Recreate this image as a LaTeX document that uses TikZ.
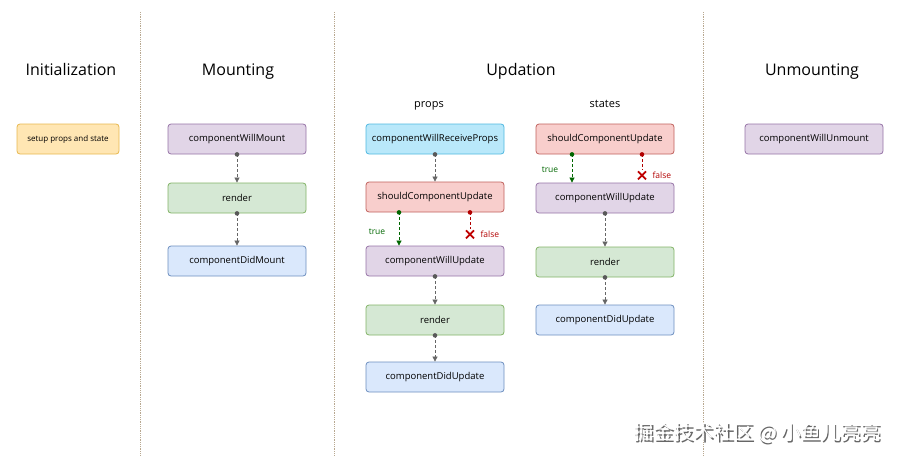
\documentclass[tikz,border=0pt]{standalone}
\usepackage{fontspec}
\setmainfont{Open Sans}
\newfontfamily\cjk{Noto Sans CJK SC}
\usetikzlibrary{arrows.meta}
\definecolor{purF}{HTML}{E1D5E7}\definecolor{purD}{HTML}{9673A6}
\definecolor{grnF}{HTML}{D5E8D4}\definecolor{grnD}{HTML}{82B366}
\definecolor{bluF}{HTML}{DAE8FC}\definecolor{bluD}{HTML}{6C8EBF}
\definecolor{cyaF}{HTML}{B9E8FA}\definecolor{cyaD}{HTML}{4FB8E0}
\definecolor{redF}{HTML}{F8CECC}\definecolor{redD}{HTML}{C0605C}
\definecolor{orgF}{HTML}{FFE6B3}\definecolor{orgD}{HTML}{E8B84E}
\definecolor{sep}{HTML}{B8A890}
\tikzset{
  box/.style={draw, rounded corners=3pt, line width=0.8pt, minimum width=138pt, minimum height=30pt, font=\fontsize{9.5}{11}\selectfont},
  pur/.style={box, fill=purF, draw=purD},
  grn/.style={box, fill=grnF, draw=grnD},
  blu/.style={box, fill=bluF, draw=bluD},
  cya/.style={box, fill=cyaF, draw=cyaD},
  red/.style={box, fill=redF, draw=redD},
  org/.style={box, fill=orgF, draw=orgD, minimum width=102pt, font=\fontsize{8}{9}\selectfont},
  head/.style={font=\fontsize{16}{18}\selectfont, anchor=base},
  sub/.style={font=\fontsize{11}{13}\selectfont, anchor=base},
  flow/.style={densely dashed, gray!80!black, line width=0.7pt, -{Triangle[length=5pt,width=5pt]}},
  note/.style={font=\fontsize{8.5}{10}\selectfont},
}
\newcommand{\dotat}[2]{\fill[#1] (#2) circle (2.3pt);}
\begin{document}
\begin{tikzpicture}[x=1pt,y=-1pt]
\useasboundingbox (0,0) rectangle (900,463);
% separators
\foreach \sx in {140,334,703}
  \draw[sep, densely dotted, line width=0.8pt] (\sx,12) -- (\sx,455);
% headers
\node[head] at (71,75) {Initialization};
\node[head] at (238,75) {Mounting};
\node[head] at (521,75) {Updation};
\node[head] at (812,75) {Unmounting};
\node[sub] at (429,107) {props};
\node[sub] at (605,107) {states};
% initialization
\node[org] (setup) at (68,139) {setup props and state};
% mounting
\node[pur] (mWill) at (237,139) {componentWillMount};
\node[grn] (mRender) at (237,198) {render};
\node[blu] (mDid) at (237,261) {componentDidMount};
% props
\node[cya] (pRecv) at (435,139) {componentWillReceiveProps};
\node[red] (pShould) at (435,197) {shouldComponentUpdate};
\node[pur] (pWill) at (435,261) {componentWillUpdate};
\node[grn] (pRender) at (435,320) {render};
\node[blu] (pDid) at (435,377) {componentDidUpdate};
% states
\node[red] (sShould) at (605,139) {shouldComponentUpdate};
\node[pur] (sWill) at (605,198) {componentWillUpdate};
\node[grn] (sRender) at (605,262) {render};
\node[blu] (sDid) at (605,320) {componentDidUpdate};
% unmounting
\node[pur] (uWill) at (814,139) {componentWillUnmount};
% straight connectors
\foreach \a/\b in {mWill/mRender, mRender/mDid, pRecv/pShould, pWill/pRender, pRender/pDid, sWill/sRender, sRender/sDid}{
  \draw[flow] (\a.south) -- (\b.north);
  \dotat{gray!70!black}{\a.south}
}
% true / false branches
\coordinate (pT) at ([xshift=-36pt]pShould.south);
\coordinate (pF) at ([xshift=35pt]pShould.south);
\draw[flow, green!40!black] (pT) -- (pT |- pWill.north);
\dotat{green!40!black}{pT}
\coordinate (pX) at ([yshift=-22pt]pF);
\draw[densely dashed, red!70!black, line width=0.7pt] (pF) -- ([yshift=5pt]pX);
\dotat{red!70!black}{pF}
\draw[red!75!black, line width=1.8pt] ([shift={(-4,-4)}]pX) -- ([shift={(4,4)}]pX) ([shift={(4,-4)}]pX) -- ([shift={(-4,4)}]pX);
\node[note, red!70!black, anchor=west] at ([xshift=7pt]pX) {false};
\node[note, green!40!black] at (377,232) {true};
\coordinate (sT) at ([xshift=-33pt]sShould.south);
\coordinate (sF) at ([xshift=37pt]sShould.south);
\draw[flow, green!40!black] (sT) -- (sT |- sWill.north);
\dotat{green!40!black}{sT}
\coordinate (sX) at ([yshift=-21pt]sF);
\draw[densely dashed, red!70!black, line width=0.7pt] (sF) -- ([yshift=5pt]sX);
\dotat{red!70!black}{sF}
\draw[red!75!black, line width=1.8pt] ([shift={(-4,-4)}]sX) -- ([shift={(4,4)}]sX) ([shift={(4,-4)}]sX) -- ([shift={(-4,4)}]sX);
\node[note, red!70!black, anchor=west] at ([xshift=7pt]sX) {false};
\node[note, green!40!black] at (550,170) {true};
% watermark
\node[font=\cjk\fontsize{20}{24}\selectfont, gray!80!black, anchor=east] at (886.5,434.5) {掘金技术社区 @ 小鱼儿亮亮};
\node[font=\cjk\fontsize{20}{24}\selectfont, white, anchor=east] at (885,433) {掘金技术社区 @ 小鱼儿亮亮};
\end{tikzpicture}
\end{document}
